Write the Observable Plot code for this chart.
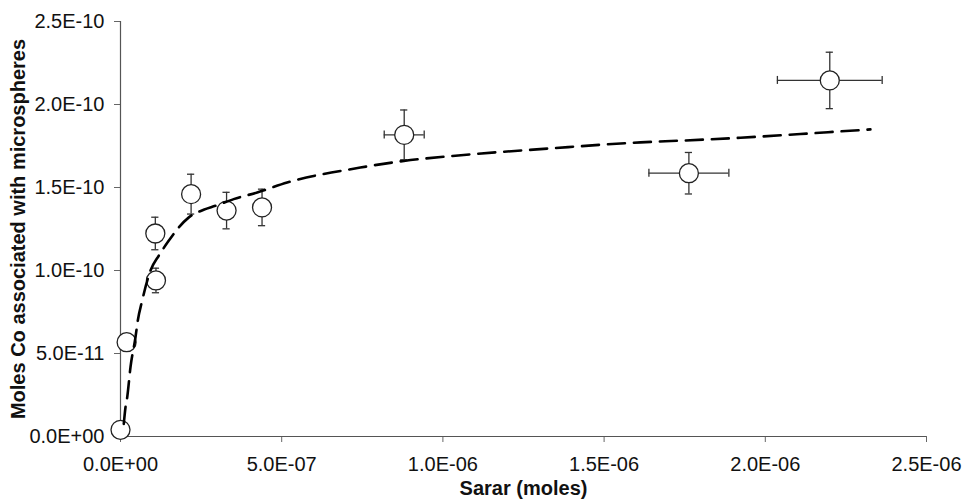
<!DOCTYPE html>
<html><head><meta charset="utf-8">
<script src="https://cdn.jsdelivr.net/npm/d3@7"></script>
<script src="https://cdn.jsdelivr.net/npm/@observablehq/plot@0.6"></script>
<style>body{margin:0;background:#fff;}</style>
</head><body><div id="chart"></div>
<script>
// Measured data points (Sarar moles vs. Co moles on microspheres)
const sarar     = [0, 1.9e-8, 1.08e-7, 1.1e-7, 2.19e-7, 3.29e-7, 4.39e-7, 8.8e-7, 1.763e-6, 2.2e-6];
const cobalt    = [4e-12, 5.68e-11, 1.223e-10, 9.4e-11, 1.46e-10, 1.361e-10, 1.38e-10, 1.817e-10, 1.586e-10, 2.145e-10];
const cobaltErr = [0, 0, 9.8e-12, 7.4e-12, 1.2e-11, 1.1e-11, 1.1e-11, 1.5e-11, 1.25e-11, 1.7e-11];
const sararErr  = [0, 0, 0, 0, 0, 0, 0, 6.2e-8, 1.24e-7, 1.625e-7];
// Fitted curve
const fitSarar  = [1.02e-8, 1.55e-8, 2.08e-8, 3.1e-8, 4.65e-8, 5.37e-8, 6.73e-8, 9.31e-8, 1.19e-7, 1.5e-7, 1.81e-7, 2.12e-7, 2.58e-7, 2.95e-7, 3.51e-7, 4.24e-7, 5.17e-7, 7.44e-7, 8.79e-7, 1.03e-6, 1.33e-6, 1.613e-6, 1.747e-6, 1.923e-6, 2.109e-6, 2.233e-6, 2.326e-6];
const fitCobalt = [7.6e-12, 1.76e-11, 2.36e-11, 4.18e-11, 5.98e-11, 6.99e-11, 8.19e-11, 1.0e-10, 1.09e-10, 1.18e-10, 1.26e-10, 1.32e-10, 1.366e-10, 1.39e-10, 1.43e-10, 1.47e-10, 1.53e-10, 1.62e-10, 1.66e-10, 1.69e-10, 1.735e-10, 1.772e-10, 1.783e-10, 1.80e-10, 1.822e-10, 1.838e-10, 1.85e-10];
const xTicks = [0, 5e-7, 1e-6, 1.5e-6, 2e-6, 2.5e-6];
const yTicks = [0, 5e-11, 1e-10, 1.5e-10, 2e-10, 2.5e-10];
const xTitle = "Sarar (moles)";
const yTitle = "Moles Co associated with microspheres";

const points = sarar.map((x, i) => ({x, y: cobalt[i], ey: cobaltErr[i], ex: sararErr[i]}));
const fit = fitSarar.map((x, i) => ({x, y: fitCobalt[i]}));
const vb = points.filter(d => d.ey > 0);
const hb = points.filter(d => d.ex > 0);

function sci(d) {
  if (d === 0) return "0.0E+00";
  const e = Math.floor(Math.log10(Math.abs(d)) + 1e-9);
  const m = d / Math.pow(10, e);
  return m.toFixed(1) + "E" + (e < 0 ? "-" : "+") + String(Math.abs(e)).padStart(2, "0");
}

const barStyle = {stroke: "#333", strokeWidth: 1.3};

const plot = Plot.plot({
  width: 962, height: 499,
  marginLeft: 120, marginRight: 36, marginTop: 21, marginBottom: 63,
  style: {fontFamily: "'Liberation Sans', Arial, sans-serif", background: "#fff", color: "#111", overflow: "visible"},
  x: {domain: [0, 2.5e-6]},
  y: {domain: [0, 2.5e-10]},
  marks: [
    Plot.axisX({ticks: xTicks, tickFormat: sci, tickSize: 6, tickPadding: 14, fontSize: 20, stroke: "#666", fill: "#111", label: null}),
    Plot.axisY({ticks: yTicks, tickFormat: sci, tickSize: 6, tickPadding: 10, fontSize: 20, stroke: "#666", fill: "#111", label: null}),
    Plot.ruleY([0], {stroke: "#555", strokeWidth: 1.2}),
    Plot.ruleX([0], {stroke: "#555", strokeWidth: 1.2}),
    // vertical error bars + caps
    Plot.ruleX(vb, {x: "x", y1: d => d.y - d.ey, y2: d => d.y + d.ey, ...barStyle}),
    Plot.ruleY(vb, {y: d => d.y - d.ey, x1: "x", x2: "x", insetLeft: -3.6, insetRight: -3.6, ...barStyle}),
    Plot.ruleY(vb, {y: d => d.y + d.ey, x1: "x", x2: "x", insetLeft: -3.6, insetRight: -3.6, ...barStyle}),
    // horizontal error bars + caps
    Plot.ruleY(hb, {y: "y", x1: d => d.x - d.ex, x2: d => d.x + d.ex, ...barStyle}),
    Plot.ruleX(hb, {x: d => d.x - d.ex, y1: "y", y2: "y", insetTop: -4, insetBottom: -4, ...barStyle}),
    Plot.ruleX(hb, {x: d => d.x + d.ex, y1: "y", y2: "y", insetTop: -4, insetBottom: -4, ...barStyle}),
    Plot.dot(points, {x: "x", y: "y", r: 9.5, fill: "#fff", stroke: "#222", strokeWidth: 1.3}),
    Plot.line(fit, {x: "x", y: "y", stroke: "#000", strokeWidth: 2.6, strokeDasharray: "17,9", curve: "monotone-x"}),
    Plot.text([xTitle], {frameAnchor: "bottom", dy: 58, fontWeight: "bold", fontSize: 20, fill: "#111"}),
    Plot.text([yTitle], {frameAnchor: "left", rotate: -90, dx: -102, textAnchor: "middle", fontWeight: "bold", fontSize: 20, fill: "#111"})
  ]
});
document.getElementById("chart").appendChild(plot);
</script>
</body></html>
